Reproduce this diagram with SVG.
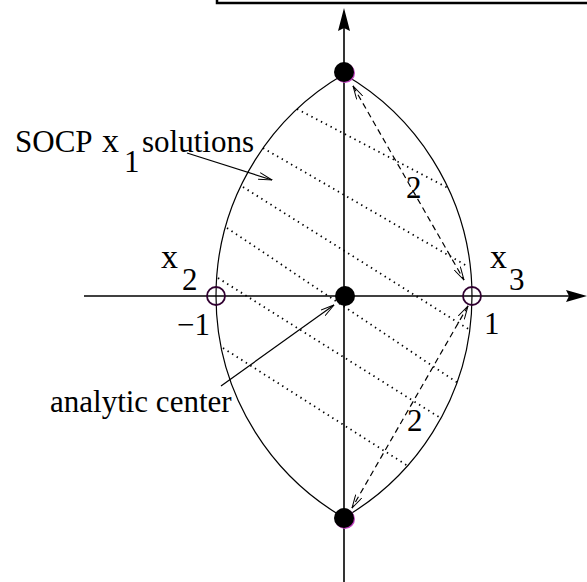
<svg xmlns="http://www.w3.org/2000/svg" width="587" height="582" viewBox="0 0 587 582">
<defs>
<style>
text{font-family:"Liberation Serif","DejaVu Serif","Noto Serif",Tinos,serif;font-size:31px;fill:#000}
.big{font-size:34px}
.ax{stroke:#000;stroke-width:1.6;fill:none}
.arc{stroke:#000;stroke-width:1.2;fill:none}
.dot{stroke:#000;stroke-width:1.8;stroke-dasharray:1.4 4;fill:none}
.dash{stroke:#000;stroke-width:1.2;stroke-dasharray:6 4;fill:none}
.ptr{stroke:#000;stroke-width:1.2;fill:none}
</style>
<marker id="open" viewBox="0 0 14 8" refX="13.5" refY="4" markerWidth="14" markerHeight="8" markerUnits="userSpaceOnUse" orient="auto-start-reverse">
<path d="M0,0.5 L13.5,4 L0,7.5" fill="none" stroke="#000" stroke-width="1"/>
</marker>
</defs>
<rect x="217" y="-20" width="400" height="23" fill="none" stroke="#000" stroke-width="2.5"/>
<g id="axes">
<line class="ax" x1="344" y1="26" x2="344" y2="582"/>
<path d="M344,8 L350,31 L344,28 L338,31 Z" fill="#000"/>
<line class="ax" x1="84" y1="296" x2="570" y2="296"/>
<path d="M587,296 L566,290 L569,296 L566,302 Z" fill="#000"/>
</g>
<g id="region">
<path class="arc" d="M344,74.3 A256,256 0 0 0 344,517.7"/>
<path class="arc" d="M344,74.3 A256,256 0 0 1 344,517.7"/>
<path class="dot" d="M297,109 L448,188 M263,148 L467,266 M243,187 L470,330 M227,228 L458,383 M218,278 L442,419 M223,348 L408,466"/>
</g>
<g id="connectors">
<line class="dash" x1="353" y1="86" x2="464" y2="280" marker-start="url(#open)" marker-end="url(#open)"/>
<line class="dash" x1="468" y1="306" x2="352" y2="508" marker-start="url(#open)" marker-end="url(#open)"/>
<line class="ptr" x1="187" y1="153" x2="272" y2="180" marker-end="url(#open)"/>
<line class="ptr" x1="221" y1="386" x2="334" y2="305" marker-end="url(#open)"/>
</g>
<g id="top">
<circle cx="345" cy="73" r="10" fill="#c040c0"/>
<circle cx="344" cy="72" r="10" fill="#000"/>
</g>
<g id="center">
<circle cx="345" cy="296" r="10" fill="#000"/>
</g>
<g id="bottom">
<circle cx="345" cy="519" r="10" fill="#c040c0"/>
<circle cx="344" cy="518" r="10" fill="#000"/>
</g>
<g id="x2">
<circle cx="216" cy="296" r="9" fill="none" stroke="#300030" stroke-width="1.8"/>
<text class="big" x="161" y="268">x</text>
<text x="182" y="290">2</text>
<text x="177" y="335">−1</text>
</g>
<g id="x3">
<circle cx="472" cy="296" r="9" fill="none" stroke="#300030" stroke-width="1.8"/>
<text class="big" x="490" y="268">x</text>
<text x="509" y="290">3</text>
<text x="484" y="334">1</text>
</g>
<g id="labels">
<text x="15" y="152">SOCP</text>
<text class="big" x="102" y="152">x</text>
<text x="124" y="172">1</text>
<text x="142" y="152">solutions</text>
<text x="50" y="412">analytic center</text>
<text x="406" y="198">2</text>
<text x="407" y="431">2</text>
</g>
</svg>
